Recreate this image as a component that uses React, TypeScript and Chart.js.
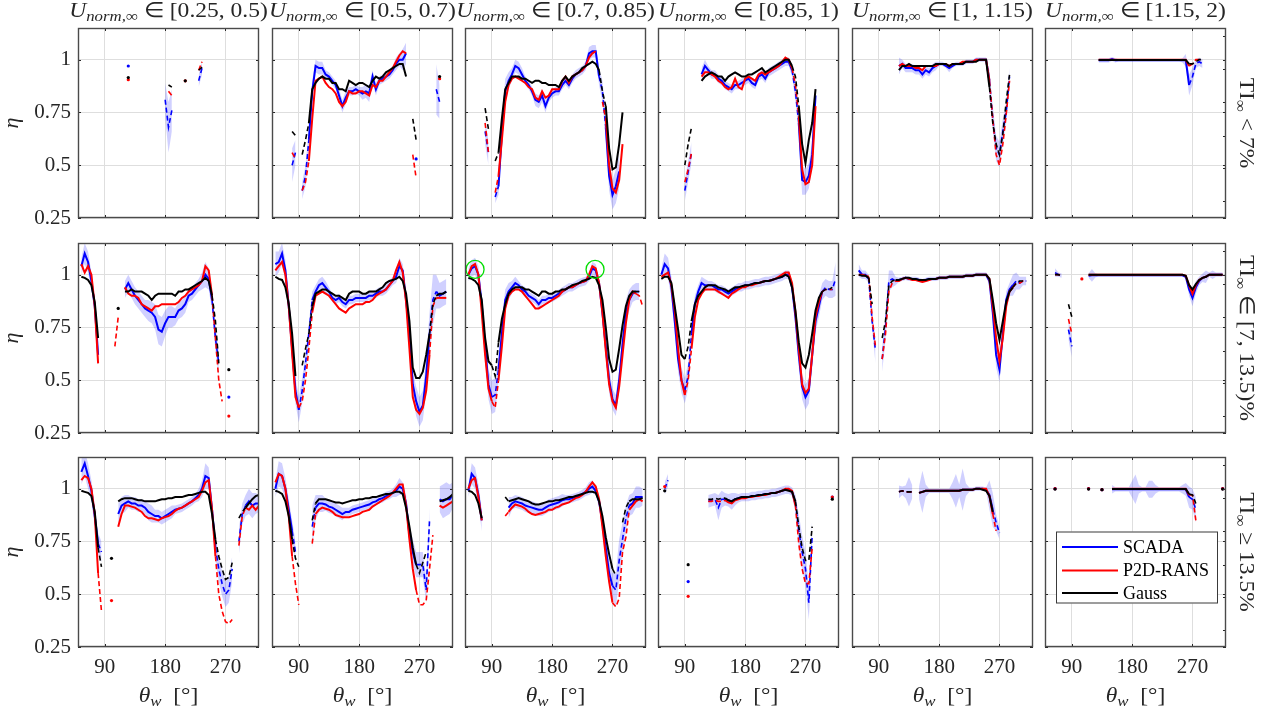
import React, { useEffect, useRef } from "react";
import { Chart, registerables } from "chart.js";

Chart.register(...registerables);

const _ = null;

// wind direction bins (deg)
const THETA = [50,55,60,65,70,75,80,85,90,95,100,105,110,115,120,125,130,135,140,145,150,155,160,165,170,175,180,185,190,195,200,205,210,215,220,225,230,235,240,245,250,255,260,265,270,275,280,285,290,295,300,305,310,315,320];
const X_TICKS = [90, 180, 270];
const Y_TICKS = [0.25, 0.5, 0.75, 1];
const SERIES = ["SCADA", "P2D-RANS", "Gauss"];
const COL_RANGES = ["[0.25, 0.5)", "[0.5, 0.7)", "[0.7, 0.85)", "[0.85, 1)", "[1, 1.15)", "[1.15, 2)"];
const ROW_RANGES = ["< 7%", "∈ [7, 13.5)%", "≥ 13.5%"];

// ---------- Row 1: TI < 7% ----------
const S00 = [_,_,_,_,_,_,_,_,_,_, _,_,_,_,_,.97,_,_,_,_, _,_,_,_,_,_,.81,.68,.76,_, _,_,_,_,_,_,.90,.96,_,_, _,_,_,_,_,_,_,_,_,_, _,_,_,_,_];
const R00 = [_,_,_,_,_,_,_,_,_,_, _,_,_,_,_,.905,_,_,_,_, _,_,_,_,_,_,_,.85,.83,_, _,_,.90,_,_,_,.95,.99,_,_, _,_,_,_,_,_,_,_,_,_, _,_,_,_,_];
const G00 = [_,_,_,_,_,_,_,_,_,_, _,_,_,_,_,.915,_,_,_,_, _,_,_,_,_,_,_,.88,.87,_, _,_,.90,_,_,_,.95,.965,_,_, _,_,_,_,_,_,_,_,_,_, _,_,_,_,_];
const W00 = [_,_,_,_,_,_,_,_,_,_, _,_,_,_,_,.09,_,_,_,_, _,_,_,_,_,_,.08,.12,.10,_, _,_,_,_,_,_,.03,.03,_,_, _,_,_,_,_,_,_,_,_,_, _,_,_,_,_];

const S01 = [_,_,_,_,_,_,.50,.56,_,.38, .45,.62,.85,.97,.96,.96,.93,.92,.90,.88, .83,.78,.82,.85,.85,.86,.85,.84,.85,.84, .92,.86,.90,.91,.92,.93,.95,.98,1.0,1.0, 1.03,_,_,.53,_,_,_,_,_,.86, .80,_,_,_,_];
const R01 = [_,_,_,_,_,_,.56,.53,_,.38, .42,.52,.72,.90,.91,.92,.89,.87,.86,.84, .80,.78,.80,.85,.84,.84,.85,.85,.84,.83, .88,.87,.90,.90,.92,.94,.96,.99,1.02,1.04, 1.03,_,.55,.44,_,_,_,_,_,_, .91,_,_,_,_];
const G01 = [_,_,_,_,_,_,.66,.64,_,.55, .62,.70,.86,.89,.91,.92,.91,.91,.89,.89, .86,.86,.85,.90,.89,.88,.89,.89,.88,.87, .90,.92,.91,.92,.94,.95,.96,.97,.98,.98, .92,_,.72,.62,_,_,_,_,_,_, .92,_,_,_,_];
const W01 = [_,_,_,_,_,_,.08,.06,_,.04, .05,.05,.05,.03,.03,.03,.02,.02,.02,.02, .03,.03,.03,.02,.02,.02,.02,.03,.03,.04, .03,.03,.02,.02,.02,.02,.02,.03,.03,.05, .05,_,_,.08,_,_,_,_,_,.12, .08,_,_,_,_];

const S02 = [_,_,_,_,_,_,.66,.56,_,.35, .40,.65,.85,.90,.93,.97,.96,.93,.90,.88, .85,.81,.80,.83,.78,.82,.84,.85,.85,.88, .90,.88,.91,.93,.94,.95,.97,1.03,1.04,1.04, .92,.85,.68,.45,.36,.40,.47,_,_,_, _,_,_,_,_];
const R02 = [_,_,_,_,_,_,.70,.56,_,.37, .45,.62,.80,.88,.91,.92,.91,.90,.89,.87, .86,.82,.81,.85,.82,.83,.86,.86,.86,.90, .92,.89,.92,.93,.94,.95,.97,1.01,1.03,1.04, _,.80,.72,.50,.39,.37,.43,.60,_,_, _,_,_,_,_];
const G02 = [_,_,_,_,_,_,.77,.67,_,.52, .56,.72,.86,.89,.92,.92,.92,.91,.91,.90, .89,.90,.90,.89,.89,.88,.88,.88,.87,.90, .92,.90,.92,.93,.94,.96,.97,.98,.99,.98, .95,.85,.78,.58,.48,.49,.60,.75,_,_, _,_,_,_,_];
const W02 = [_,_,_,_,_,_,.06,.06,_,.03, .04,.06,.06,.04,.03,.03,.03,.03,.02,.02, .02,.03,.03,.03,.03,.02,.02,.02,.02,.02, .02,.02,.02,.02,.02,.02,.02,.03,.03,.03, .04,.05,.06,.07,.07,.08,.08,_,_,_, _,_,_,_,_];

const S03 = [_,_,_,_,_,_,_,_,.38,.47, .56,_,_,.93,.97,.95,.93,.93,.91,.90, .88,.87,.86,.88,.88,.89,.90,.91,.89,.88, .92,.93,.91,.94,.95,.96,.97,.98,.99,.99, .95,.85,.70,.43,.42,.45,.55,.83,_,_, _,_,_,_,_];
const R03 = [_,_,_,_,_,_,_,_,.42,.48, .56,_,_,.92,.94,.94,.93,.92,.90,.89, .87,.86,.87,.91,.87,.86,.91,.92,.91,.90, .93,.94,.93,.94,.95,.96,.97,.99,1.01,1.0, .96,.88,.73,.48,.41,.42,.50,.78,_,_, _,_,_,_,_];
const G03 = [_,_,_,_,_,_,_,_,.50,.60, .68,_,_,.90,.92,.93,.94,.93,.92,.92, .90,.92,.93,.94,.93,.92,.92,.93,.93,.94, .95,.96,.94,.95,.96,.97,.98,.99,1.0,1.0, .97,.92,.78,.60,.51,.62,.70,.86,_,_, _,_,_,_,_];
const W03 = [_,_,_,_,_,_,_,_,.05,.05, .05,_,_,.03,.03,.02,.02,.02,.02,.02, .02,.02,.02,.02,.02,.02,.02,.02,.02,.02, .02,.02,.02,.02,.02,.02,.02,.02,.02,.02, .03,.05,.06,.07,.06,.06,.06,.06,_,_, _,_,_,_,_];

const S04 = [_,_,_,_,_,_,_,_,_,_, _,_,_,_,.97,.98,.96,.96,.96,.95, .95,.93,.95,.94,.96,.97,.98,.98,.97,.96, .97,.98,.98,.98,.99,.99,.99,1.0,1.0,1.0, 1.0,.90,.72,.58,.55,.66,.75,.92,_,_, _,_,_,_,_];
const R04 = [_,_,_,_,_,_,_,_,_,_, _,_,_,_,.97,.98,.97,.97,.97,.96, .96,.95,.97,.97,.97,.97,.98,.98,.98,.97, .98,.98,.98,.99,.99,.99,.99,1.0,1.0,1.0, 1.0,.90,.72,.55,.50,.60,.74,.90,_,_, _,_,_,_,_];
const G04 = [_,_,_,_,_,_,_,_,_,_, _,_,_,_,.95,.97,.97,.98,.97,.97, .97,.97,.97,.97,.97,.98,.98,.98,.98,.97, .98,.98,.98,.98,.99,.99,.99,.99,1.0,1.0, 1.0,.87,.70,.60,.55,.65,.80,.93,_,_, _,_,_,_,_];
const W04 = [_,_,_,_,_,_,_,_,_,_, _,_,_,_,.04,.02,.02,.02,.02,.02, .02,.02,.02,.02,.02,.02,.01,.01,.01,.02, .01,.01,.01,.01,.01,.01,.01,.01,.01,.01, .01,.05,.06,.06,.06,.06,.05,.04,_,_, _,_,_,_,_];

const S05 = [_,_,_,_,_,_,_,_,_,_, _,_,_,_,_,_,.997,.997,.997,.997, 1.003,.997,.997,.997,.997,.997,.997,.997,.997,.997, .997,.997,.997,.997,.997,.997,.997,.997,.997,.997, .997,.997,.997,.88,.92,.98,.99,.98,_,_, _,_,_,_,_];
const R05 = [_,_,_,_,_,_,_,_,_,_, _,_,_,_,_,_,1,1,1,1, 1,1,1,1,1,1,1,1,1,1, 1,1,1,1,1,1,1,1,1,1, 1,1,1,.97,.98,1,1,1,_,_, _,_,_,_,_];
const G05 = [_,_,_,_,_,_,_,_,_,_, _,_,_,_,_,_,.998,.998,.998,.998, .998,.998,.998,.998,.998,.998,.998,.998,.998,.998, .998,.998,.998,.998,.998,.998,.998,.998,.998,.998, .998,.998,.998,.98,.98,.99,1,1,_,_, _,_,_,_,_];
const W05 = [_,_,_,_,_,_,_,_,_,_, _,_,_,_,_,_,.01,.01,.01,.01, .01,.01,.005,.005,.005,.005,.005,.005,.005,.005, .005,.005,.005,.005,.005,.005,.005,.005,.005,.005, .005,.01,.03,.05,.04,.02,.02,.02,_,_, _,_,_,_,_];

// ---------- Row 2: TI in [7, 13.5)% ----------
const S10 = [_,1.04,1.10,1.06,.97,.85,.62,_,_,_, _,_,_,_,.93,.96,.93,.90,.88,.86, .84,.83,.82,.80,.74,.73,.77,.80,.80,.80, .83,.84,.86,.90,.91,.93,.95,.97,1.0,.98, .88,.70,.58,_,_,.42,_,_,_,_, _,_,_,_,_];
const R10 = [_,1.05,1.01,1.04,1.0,.85,.58,_,_,_, _,.66,.80,_,.94,.91,.90,.90,.89,.86, .85,.84,.83,.85,.85,.86,.86,.86,.86,.86, .87,.89,.90,.92,.93,.94,.95,.97,1.04,1.02, .90,.70,.50,.40,_,.33,_,_,_,_, _,_,_,_,_];
const G10 = [_,.99,.985,.975,.95,.87,.70,_,_,_, _,_,.84,_,.92,.92,.93,.92,.92,.92, .91,.90,.88,.90,.91,.91,.91,.91,.91,.90, .92,.92,.93,.93,.94,.95,.96,.97,.985,.97, .90,.78,.58,_,_,.55,_,_,_,_, _,_,_,_,_];
const W10 = [_,.04,.05,.05,.04,.04,.06,_,_,_, _,_,_,_,.04,.04,.04,.04,.04,.04, .04,.05,.05,.06,.07,.07,.06,.05,.05,.04, .04,.04,.04,.03,.03,.03,.03,.04,.06,.05, .05,.06,.07,_,_,.08,_,_,_,_, _,_,_,_,_];

const S11 = [_,1.05,1.06,1.10,1.02,.85,.65,.45,.36,.45, .58,.72,.88,.92,.95,.96,.94,.92,.89,.88, .89,.87,.86,.88,.88,.89,.89,.89,.89,.90, .90,.91,.92,.92,.93,.95,.97,.99,1.04,1.02, .88,.72,.48,.40,.35,.38,.52,.72,.88,.92, .90,.91,.92,_,_];
const R11 = [_,1.02,1.04,1.06,1.0,.85,.63,.42,.37,.40, .50,.65,.82,.90,.91,.92,.91,.90,.88,.86, .84,.83,.82,.84,.85,.86,.86,.86,.87,.87, .88,.90,.91,.92,.93,.95,.97,1.02,1.06,1.01, .87,.65,.42,.36,.34,.37,.45,.62,.85,.89, .89,.89,.89,_,_];
const G11 = [_,.99,.98,.975,.94,.86,.72,.52,_,.57, .65,.72,.85,.91,.92,.93,.93,.92,.91,.90, .90,.89,.88,.91,.92,.92,.92,.91,.91,.92, .92,.92,.93,.94,.96,.97,.975,.98,.99,.97, .91,.78,.56,.51,.51,.54,.62,.72,.86,.90, .91,.91,.92,_,_];
const W11 = [_,.06,.05,.05,.05,.05,.06,.06,.06,.06, .05,.05,.04,.03,.03,.03,.03,.02,.02,.02, .02,.02,.02,.02,.02,.02,.02,.02,.02,.02, .02,.02,.02,.02,.02,.02,.02,.03,.04,.03, .04,.05,.06,.07,.07,.07,.08,.10,.12,.08, .06,.06,.06,_,_];

const S12 = [_,1.0,1.03,1.04,1.0,.86,.66,.48,.42,.43, .55,.72,.88,.92,.94,.96,.95,.93,.92,.90, .89,.88,.86,.88,.88,.89,.89,.90,.91,.92, .93,.94,.94,.95,.96,.965,.97,.99,1.03,1.02, .96,.82,.66,.50,.41,.38,.50,.67,.82,.88, .91,.92,.92,_,_];
const R12 = [_,1.0,1.04,1.05,1.0,.82,.62,.46,.40,.37, .50,.66,.84,.90,.92,.93,.93,.92,.90,.88, .86,.84,.84,.85,.86,.87,.88,.89,.90,.92, .93,.94,.94,.95,.96,.965,.97,1.0,1.04,1.03, .96,.82,.64,.48,.40,.37,.47,.62,.77,.88, .92,.91,.90,.85,_];
const G12 = [_,.985,.98,.97,.95,.88,.70,.59,.57,.52, .68,.79,.86,.91,.93,.94,.94,.94,.93,.93, .92,.91,.90,.92,.92,.91,.91,.92,.92,.93, .93,.94,.95,.955,.96,.97,.975,.98,.99,.985, .95,.88,.75,.60,.54,.55,.65,.76,.85,.90, .92,.92,.92,_,_];
const W12 = [_,.03,.04,.04,.04,.05,.06,.07,.08,.08, .06,.06,.05,.04,.03,.03,.02,.02,.02,.02, .02,.02,.02,.02,.02,.02,.02,.02,.02,.02, .02,.02,.02,.02,.02,.02,.02,.02,.03,.03, .02,.04,.06,.06,.05,.05,.05,.06,.06,.05, .04,.04,.04,_,_];

const S13 = [_,1.0,1.05,1.03,.94,.78,.60,.50,.45,.52, .72,.86,.92,.96,.95,.95,.95,.94,.93,.93, .92,.91,.92,.93,.94,.94,.95,.95,.955,.96, .96,.965,.97,.97,.975,.98,.985,.99,1.0,1.0, .94,.80,.62,.47,.42,.45,.62,.78,.85,.92, .94,.93,.93,.98,_];
const R13 = [_,.99,1.0,1.01,.95,.83,.65,.50,.43,.50, .65,.80,.88,.91,.93,.93,.93,.93,.92,.91, .90,.89,.91,.92,.93,.94,.94,.95,.95,.955, .96,.965,.97,.97,.975,.98,.99,1.0,1.01,1.01, .96,.82,.65,.48,.44,.46,.62,.80,.87,.92, .93,.93,.93,_,_];
const G13 = [_,.98,.99,.99,.96,.85,.74,.62,.60,.66, .78,.86,.90,.92,.94,.95,.95,.95,.94,.935, .93,.92,.93,.94,.94,.945,.95,.95,.955,.96, .96,.965,.97,.97,.975,.98,.985,.99,1.0,.99, .94,.83,.68,.58,.56,.62,.72,.83,.89,.92, .93,.93,.94,_,_];
const W13 = [_,.03,.05,.05,.05,.06,.06,.06,.06,.06, .05,.04,.03,.03,.03,.02,.02,.02,.02,.02, .02,.02,.02,.02,.02,.02,.02,.02,.02,.02, .02,.02,.02,.02,.02,.02,.02,.02,.02,.02, .03,.05,.06,.06,.06,.06,.06,.05,.05,.04, .04,.04,.04,.08,_];

const S14 = [_,_,1.02,1.0,1.0,.98,.78,.64,_,.60, .75,.97,.98,.97,.975,.98,.985,.98,.98,.98, .975,.97,.975,.98,.98,.98,.985,.985,.985,.99, .99,.99,.99,.99,.995,.995,.995,1.0,1.0,1.0, 1.0,.97,.82,.62,.55,.72,.88,.93,.95,.97, .96,.97,.97,_,_];
const R14 = [_,_,1.0,1.0,.995,.99,.80,.66,_,.60, .72,.92,.96,.97,.97,.98,.985,.98,.975,.975, .97,.965,.97,.975,.98,.98,.985,.985,.985,.99, .99,.99,.99,.99,.995,.995,.995,1.0,1.0,1.0, 1.0,.98,.85,.70,.59,.70,.85,.92,.94,.96, .96,.97,.97,_,_];
const G14 = [_,_,1.0,.995,.995,.985,.86,_,_,.70, .78,.95,.97,.975,.975,.98,.985,.985,.98,.98, .975,.975,.975,.98,.98,.98,.985,.985,.985,.99, .99,.99,.99,.99,.995,.995,.995,1.0,1.0,1.0, 1.0,.98,.88,.77,.69,.78,.87,.92,.94,.96, .97,.97,.97,_,_];
const W14 = [_,_,.03,.02,.02,.02,.04,.06,_,.06, .06,.05,.04,.02,.01,.01,.01,.01,.01,.01, .01,.01,.01,.01,.01,.01,.01,.01,.01,.01, .01,.01,.01,.01,.01,.01,.01,.01,.01,.01, .01,.02,.04,.06,.06,.05,.04,.03,.05,.04, .03,.02,.02,_,_];

const S15 = [_,_,_,1.01,1.0,.995,_,.74,.66,_, _,_,_,.995,.997,.997,.997,.997,.997,.997, .997,.997,.997,.997,.997,.997,.997,.997,.997,.997, .997,.997,.997,.997,.997,.997,.997,.997,.997,.997, .997,.997,.99,.93,.89,.94,.97,.985,.99,1.0, 1.0,1.0,1.0,1.0,_];
const R15 = [_,_,_,1.0,1.0,1.0,_,.79,.72,_, _,.98,_,1,1,1,1,1,1,1, 1,1,1,1,1,1,1,1,1,1, 1,1,1,1,1,1,1,1,1,1, 1,1,.995,.95,.91,.95,.975,.985,.99,1, 1,1,1,1,_];
const G15 = [_,_,_,1.0,1.0,.995,_,.86,.80,_, _,_,_,1,1,1,1,1,1,1, 1,1,1,1,1,1,1,1,1,1, 1,1,1,1,1,1,1,1,1,1, 1,1,.995,.95,.93,.955,.975,.985,.99,1, 1,1,1,1,_];
const W15 = [_,_,_,.02,.01,.01,_,.05,.05,_, _,_,_,.01,.03,.01,.005,.005,.005,.005, .005,.005,.005,.005,.005,.005,.005,.005,.005,.005, .005,.005,.005,.005,.005,.005,.005,.005,.005,.005, .005,.005,.01,.03,.04,.03,.02,.02,.03,.01, .02,.01,.01,.01,_];

// ---------- Row 3: TI >= 13.5% ----------
const S20 = [_,1.08,1.12,1.06,.99,.87,.74,.70,_,_, _,_,.88,.92,.93,.94,.93,.93,.92,.92, .91,.89,.88,.87,.87,.86,.87,.88,.89,.90, .905,.91,.92,.93,.94,.955,.97,1.0,1.06,1.05, .90,.72,.62,.55,.50,.52,.62,_,.75,.88, .92,.94,.92,.93,.93];
const R20 = [_,1.04,1.06,1.05,1.0,.88,.60,.42,_,_, .47,_,.82,.88,.92,.92,.915,.91,.90,.89, .87,.86,.86,.855,.85,.86,.865,.87,.88,.895, .905,.91,.92,.93,.94,.95,.96,.99,1.03,1.04, .90,.68,.50,.42,.37,.36,.38,_,.73,.87, .91,.90,.92,.90,.92];
const G20 = [_,.99,.985,.98,.965,.89,.72,.63,_,_, .67,_,.94,.95,.955,.955,.955,.95,.945,.945, .94,.94,.94,.94,.945,.95,.95,.955,.955,.96, .96,.96,.965,.97,.97,.975,.98,.985,.985,.97, .88,.76,.68,.62,.57,.58,.65,_,.86,.89, .91,.93,.95,.965,.97];
const W20 = [_,.06,.06,.06,.05,.05,.05,.05,_,_, _,_,.05,.04,.04,.03,.03,.03,.03,.03, .03,.04,.04,.03,.03,.03,.03,.03,.03,.02, .02,.02,.02,.02,.02,.02,.03,.04,.06,.05, .05,.06,.06,.06,.06,.06,.06,_,.06,.05, .05,.06,.06,.05,.04];

const S21 = [_,1.0,1.07,1.06,1.0,.90,.80,.70,_,_, _,_,.82,.91,.93,.93,.925,.915,.91,.90, .89,.88,.89,.89,.90,.905,.91,.915,.92,.925, .935,.94,.95,.955,.965,.97,.98,.99,1.01,1.0, .93,.78,.70,.64,.64,.64,.52,.85,_,_, .95,.94,.95,.95,.97];
const R21 = [_,1.03,1.07,1.06,1.0,.87,.68,.55,.45,_, _,_,.74,.88,.90,.91,.905,.90,.89,.875, .87,.865,.865,.865,.87,.875,.88,.89,.895,.90, .915,.925,.935,.945,.955,.965,.98,1.0,1.02,1.02, .92,.76,.62,.52,.45,.45,.47,.62,.78,_, .92,.91,.92,.93,.94];
const G21 = [_,.99,.985,.975,.94,.87,.76,.67,.63,_, _,_,.85,.93,.95,.95,.95,.945,.94,.935, .935,.93,.935,.94,.945,.945,.95,.95,.955,.955, .96,.96,.965,.97,.975,.975,.98,.985,.985,.975, .91,.82,.72,.64,.60,.65,.70,_,_,_, .94,.945,.95,.96,.975];
const W21 = [_,.04,.06,.06,.05,.05,.05,.05,_,_, _,_,.10,.06,.04,.04,.03,.03,.03,.03, .03,.03,.02,.02,.02,.02,.02,.02,.02,.02, .02,.02,.02,.02,.02,.02,.02,.03,.04,.03, .04,.05,.06,.06,.06,.06,.06,.06,_,_, .06,.08,.08,.07,.06];

const S22 = [_,.99,1.07,1.05,.97,.85,_,_,_,_, _,_,_,.91,.93,.94,.935,.93,.92,.915, .91,.905,.90,.90,.91,.92,.925,.93,.935,.945, .95,.95,.955,.96,.965,.975,.985,1.0,1.01,.99, .94,.84,.72,.60,.54,.52,.66,.76,.86,.92, .93,.96,.96,.96,_];
const R22 = [_,1.0,1.04,1.05,.96,.85,_,_,_,_, _,_,.87,.89,.91,.925,.92,.915,.905,.89, .88,.875,.88,.885,.89,.90,.90,.91,.915,.925, .93,.935,.945,.955,.96,.97,.985,1.01,1.03,1.01, .95,.82,.68,.56,.46,.44,.48,.70,.77,.90, .92,.94,.95,.94,_];
const G22 = [_,.99,.985,.97,.93,.86,_,_,_,_, _,_,.96,.94,.945,.95,.955,.95,.945,.94, .93,.925,.925,.93,.935,.94,.94,.945,.945,.95, .955,.96,.96,.965,.97,.975,.98,.985,.985,.98, .94,.87,.77,.69,.62,.59,_,.84,.91,.94, .95,.95,.95,.955,_];
const W22 = [_,.03,.05,.05,.05,.05,_,_,_,_, _,_,_,.05,.03,.03,.03,.03,.03,.03, .03,.03,.03,.03,.03,.03,.03,.03,.03,.03, .02,.02,.02,.02,.02,.02,.02,.03,.03,.02, .03,.05,.06,.06,.06,.08,.10,.08,.06,.05, .05,.05,.05,.04,_];

const S23 = [_,_,1.0,1.04,_,_,_,_,_,.56, _,_,_,_,_,.94,.945,.95,.91,.95, .95,.945,.94,.95,.955,.96,.96,.96,.965,.965, .97,.97,.975,.975,.98,.98,.985,.99,.995,.995, .985,.93,.80,.70,.62,.46,.78,_,_,_, _,_,.96,_,_];
const R23 = [_,_,1.01,_,_,_,_,_,_,.49, _,_,_,_,_,.94,.94,.945,.94,.94, .945,.935,.93,.945,.95,.955,.955,.96,.96,.965, .965,.97,.97,.975,.98,.98,.985,.99,1.0,1.0, .99,.92,.74,.62,.55,.55,.72,_,_,_, _,_,.96,_,_];
const G23 = [_,_,.99,_,_,_,_,_,_,.64, _,_,_,_,_,.95,.95,.955,.95,.955, .955,.945,.94,.95,.955,.96,.96,.96,.965,.965, .97,.97,.975,.975,.98,.98,.985,.99,.995,.99, .985,.94,.82,.72,.66,.66,.82,_,_,_, _,_,.95,_,_];
const W23 = [_,_,.03,.03,_,_,_,_,_,.05, _,_,_,_,_,.03,.03,.03,.06,.04, .03,.03,.04,.03,.02,.02,.02,.02,.02,.02, .02,.02,.02,.02,.02,.02,.02,.02,.02,.02, .02,.04,.08,.08,.08,.08,.08,_,_,_, _,_,.10,_,_];

const S24 = [_,_,_,_,_,_,_,_,_,_, _,_,_,_,.985,.99,.985,.985,.985,_, .98,.985,.99,.99,.99,.99,.99,.99,.99,.99, .99,.99,.99,.995,.995,.995,.995,1.0,1.0,1.0, .995,.97,.90,.84,.79,_,_,_,_,_, _,_,_,_,_];
const R24 = [_,_,_,_,_,_,_,_,_,_, _,_,_,_,.985,.99,.985,.985,.985,_, .98,.985,.99,.99,.99,.99,.99,.99,.99,.99, .99,.99,.99,.995,.995,.995,.995,1.0,1.0,1.0, 1.0,.965,.88,.80,_,_,_,_,_,_, _,_,_,_,_];
const G24 = [_,_,_,_,_,_,_,_,_,_, _,_,_,_,.985,.99,.985,.985,.985,_, .98,.985,.99,.99,.99,.99,.99,.99,.99,.99, .99,.99,.99,.995,.995,.995,.995,1.0,1.0,.995, .99,.965,.89,_,_,_,_,_,_,_, _,_,_,_,_];
const W24 = [_,_,_,_,_,_,_,_,_,_, _,_,_,_,.03,.02,.03,.07,.03,_, .03,.10,.03,.01,.01,.01,.01,.01,.01,.01, .04,.08,.03,.10,.03,.01,.01,.01,.01,.01, .01,.07,.08,.04,.03,_,_,_,_,_, _,_,_,_,_];

const S25 = [_,_,_,1.0,_,_,_,_,_,_, _,_,_,1.0,_,_,_,.995,_,_, .997,.997,.997,.997,.997,.997,.997,.997,.997,.997, .997,.997,.997,.997,.997,.997,.997,.997,.997,.997, .997,.997,.997,.96,.95,.90,_,_,_,_, _,_,_,1.0,_];
const R25 = [_,_,_,1.0,_,_,_,_,_,_, _,_,_,1.0,_,_,_,.995,_,_, 1,1,1,1,1,1,1,1,1,1, 1,1,1,1,1,1,1,1,1,1, 1,1,1,.97,.97,.85,_,_,_,_, _,_,_,1.0,_];
const G25 = [_,_,_,.998,_,_,_,_,_,_, _,_,_,.998,_,_,_,.995,_,_, .998,.998,.998,.998,.998,.998,.998,.998,.998,.998, .998,.998,.998,.998,.998,.998,.998,.998,.998,.998, .998,.998,.998,.975,.97,.93,_,_,_,_, _,_,_,.998,_];
const W25 = [_,_,_,.04,_,_,_,_,_,_, _,_,_,.03,_,_,_,.02,_,_, .02,.01,.01,.01,.01,.01,.04,.07,.02,.01, .01,.04,.04,.02,.01,.01,.01,.01,.01,.01, .01,.02,.03,.05,.05,.06,_,_,_,_, _,_,_,.02,_];

// highlighted peaks (green circles) in panel row 2 / col 3
const MARK_THETA = [65, 244];
const MARK_ETA = [1.025, 1.025];

const PANELS = [
  [
    { S: S00, R: R00, G: G00, W: W00 }, { S: S01, R: R01, G: G01, W: W01 }, { S: S02, R: R02, G: G02, W: W02 },
    { S: S03, R: R03, G: G03, W: W03 }, { S: S04, R: R04, G: G04, W: W04 }, { S: S05, R: R05, G: G05, W: W05 },
  ],
  [
    { S: S10, R: R10, G: G10, W: W10 }, { S: S11, R: R11, G: G11, W: W11 }, { S: S12, R: R12, G: G12, W: W12 },
    { S: S13, R: R13, G: G13, W: W13 }, { S: S14, R: R14, G: G14, W: W14 }, { S: S15, R: R15, G: G15, W: W15 },
  ],
  [
    { S: S20, R: R20, G: G20, W: W20 }, { S: S21, R: R21, G: G21, W: W21 }, { S: S22, R: R22, G: G22, W: W22 },
    { S: S23, R: R23, G: G23, W: W23 }, { S: S24, R: R24, G: G24, W: W24 }, { S: S25, R: R25, G: G25, W: W25 },
  ],
];

// theta ranges drawn with dashed lines (sparse bins)
const DASH = [
  [[[50, 320]], [[50, 108], [248, 320]], [[50, 103], [248, 262], [282, 320]], [[50, 112], [250, 263], [282, 320]], [[50, 118], [252, 320]], [[50, 128], [262, 320]]],
  [[[50, 52], [78, 118], [248, 320]], [[50, 57], [86, 112], [282, 298]], [[88, 100], [302, 320]], [[86, 100], [292, 320]], [[50, 58], [74, 118], [286, 320]], [[50, 115]]],
  [[[78, 112], [252, 300]], [[78, 115], [262, 300]], [[108, 118], [268, 295]], [[50, 150], [255, 320]], [[50, 150], [256, 320]], [[50, 150], [262, 320]]],
];

// ---------- layout / style ----------
const FONT = "'Liberation Serif', 'Times New Roman', serif";
const INK = "#262626";
const FRAME = "#4a4a4a";
const GRID = "#dedede";
const COL_X = [78, 272, 465, 658, 852, 1045];
const ROW_Y = [28, 243, 457];
const PW = 181;
const PH = 190;
const PAD_L = 75;
const PAD_T = 30;
const PAD_R = 65;
const PAD_B = 70;
const CW = PAD_L + PW + PAD_R;
const CH = PAD_T + PH + PAD_B;
const RIGHT_MINOR = [0.042, 0.215, 0.39, 0.566, 0.739, 0.913];
const STRETCH = 1.12;

Chart.defaults.font.family = FONT;

type Part = { t: string; size: number; italic?: boolean; dy?: number };

function drawParts(ctx: CanvasRenderingContext2D, parts: Part[], cx: number, cy: number, rot: number, base: number, stretch: number) {
  ctx.save();
  ctx.translate(cx, cy);
  ctx.rotate(rot);
  ctx.scale(stretch, 1);
  ctx.textBaseline = "alphabetic";
  ctx.textAlign = "left";
  ctx.fillStyle = INK;
  const f = (p: Part) => `${p.italic ? "italic " : ""}${p.size}px ${FONT}`;
  let total = 0;
  const widths = parts.map((p) => {
    ctx.font = f(p);
    const w = ctx.measureText(p.t).width;
    total += w;
    return w;
  });
  let x = -total / 2;
  parts.forEach((p, i) => {
    ctx.font = f(p);
    ctx.fillText(p.t, x, base + (p.dy || 0));
    x += widths[i];
  });
  ctx.restore();
}

const isGap = (v: any) => v === null || v === undefined;

function Panel({ r, c }: { r: number; c: number }) {
  const ref = useRef<HTMLCanvasElement | null>(null);

  useEffect(() => {
    const canvas = ref.current;
    if (!canvas) return;
    const P = PANELS[r][c];
    const dash = DASH[r][c];
    const inDash = (a: number, b: number) => dash.some(([lo, hi]) => a >= lo && b <= hi);
    const pts = (arr: (number | null)[]) => THETA.map((x, i) => ({ x, y: arr[i] }));

    const lineSet = (label: string, arr: (number | null)[], color: string, order: number) => ({
      label,
      data: pts(arr),
      borderColor: color,
      backgroundColor: color,
      borderWidth: 2,
      tension: 0,
      fill: false,
      order,
      spanGaps: false,
      pointRadius: (ctx: any) => {
        const i = ctx.dataIndex;
        return !isGap(arr[i]) && isGap(arr[i - 1]) && isGap(arr[i + 1]) ? 1.6 : 0;
      },
      pointHoverRadius: 0,
      pointBorderWidth: 0,
      segment: {
        borderDash: (ctx: any) => (inDash(ctx.p0.parsed.x, ctx.p1.parsed.x) ? [5, 3] : undefined),
        borderWidth: (ctx: any) => (inDash(ctx.p0.parsed.x, ctx.p1.parsed.x) ? 1.6 : undefined),
      },
    });

    const bandPts = (sign: number) =>
      THETA.map((x, i) => ({
        x,
        y: isGap(P.S[i]) || isGap(P.W[i]) ? null : (P.S[i] as number) + sign * (P.W[i] as number),
      }));

    const datasets: any[] = [
      lineSet(SERIES[2], P.G, "#000000", 1),
      lineSet(SERIES[1], P.R, "#ff0000", 2),
      lineSet(SERIES[0], P.S, "#0000ff", 3),
      { label: "band-lo", data: bandPts(-1), borderColor: "rgba(0,0,0,0)", borderWidth: 1, pointRadius: 0, fill: false, order: 6, tension: 0 },
      { label: "band-hi", data: bandPts(1), borderColor: "rgba(0,0,0,0)", borderWidth: 1, pointRadius: 0, fill: "-1", backgroundColor: "rgba(40,40,255,0.22)", order: 5, tension: 0 },
    ];
    if (r === 1 && c === 2) {
      datasets.push({
        label: "mark",
        data: MARK_THETA.map((x, i) => ({ x, y: MARK_ETA[i] })),
        showLine: false,
        pointRadius: 9,
        pointBorderColor: "#00dd00",
        pointBackgroundColor: "rgba(0,0,0,0)",
        pointBorderWidth: 1.3,
        borderColor: "rgba(0,0,0,0)",
        order: 0,
      });
    }

    const decor = {
      id: "decor",
      afterDatasetsDraw(chart: any) {
        const { ctx, chartArea: a } = chart;
        const xs = chart.scales.x;
        const ys = chart.scales.y;
        ctx.save();
        ctx.strokeStyle = INK;
        ctx.lineWidth = 1;
        ctx.beginPath();
        X_TICKS.forEach((v) => {
          const px = Math.round(xs.getPixelForValue(v)) + 0.5;
          ctx.moveTo(px, a.bottom);
          ctx.lineTo(px, a.bottom - 3);
          ctx.moveTo(px, a.top);
          ctx.lineTo(px, a.top + 3);
        });
        Y_TICKS.forEach((v) => {
          const py = Math.round(ys.getPixelForValue(v)) + 0.5;
          ctx.moveTo(a.left, py);
          ctx.lineTo(a.left + 3, py);
          ctx.moveTo(a.right, py);
          ctx.lineTo(a.right - 3, py);
        });
        if (c === 5) {
          RIGHT_MINOR.forEach((fr) => {
            const py = Math.round(a.top + fr * (a.bottom - a.top)) + 0.5;
            ctx.moveTo(a.right, py);
            ctx.lineTo(a.right - 3, py);
          });
        }
        ctx.stroke();
        ctx.strokeStyle = FRAME;
        ctx.lineWidth = 1.4;
        ctx.strokeRect(a.left + 0.5, a.top + 0.5, a.right - a.left - 1, a.bottom - a.top - 1);
        ctx.restore();
      },
      afterDraw(chart: any) {
        const { ctx, chartArea: a } = chart;
        const cx = (a.left + a.right) / 2;
        const cy = (a.top + a.bottom) / 2;
        if (r === 0) {
          drawParts(ctx, [
            { t: "U", size: 21, italic: true },
            { t: "norm,∞", size: 15, italic: true, dy: 4 },
            { t: " ∈ ", size: 21 },
            { t: COL_RANGES[c], size: 21 },
          ], cx, a.top - 11, 0, 0, STRETCH);
        }
        if (c === 5) {
          drawParts(ctx, [
            { t: "TI", size: 21 },
            { t: "∞", size: 15, dy: 4 },
            { t: " " + ROW_RANGES[r], size: 21 },
          ], a.right + 21, cy, Math.PI / 2, 7, STRETCH);
        }
        if (c === 0) {
          drawParts(ctx, [{ t: "η", size: 22, italic: true }], a.left - 64, cy, -Math.PI / 2, 4, 1);
        }
        if (r === 2) {
          drawParts(ctx, [
            { t: "θ", size: 21, italic: true },
            { t: "w", size: 15, italic: true, dy: 4 },
            { t: "  [°]", size: 21 },
          ], cx, a.bottom + 55, 0, 0, STRETCH);
        }
        if (r === 2 && c === 5) {
          const bx = a.left + 11;
          const by = a.top + 74.5;
          ctx.save();
          ctx.fillStyle = "#ffffff";
          ctx.fillRect(bx, by, 162, 72);
          ctx.strokeStyle = "#3a3a3a";
          ctx.lineWidth = 1;
          ctx.strokeRect(bx + 0.5, by + 0.5, 161, 71);
          const colors = ["#0000ff", "#ff0000", "#000000"];
          const ys = [a.top + 90, a.top + 113.5, a.top + 136];
          SERIES.forEach((name, i) => {
            ctx.strokeStyle = colors[i];
            ctx.lineWidth = 2;
            ctx.beginPath();
            ctx.moveTo(a.left + 17, ys[i]);
            ctx.lineTo(a.left + 73, ys[i]);
            ctx.stroke();
            ctx.fillStyle = "#000000";
            ctx.font = `18px ${FONT}`;
            ctx.textBaseline = "middle";
            ctx.textAlign = "left";
            ctx.fillText(name, a.left + 78, ys[i] + 1);
          });
          ctx.restore();
        }
      },
    };

    const chart = new Chart(canvas, {
      type: "line",
      data: { datasets },
      options: {
        animation: false,
        responsive: false,
        maintainAspectRatio: false,
        devicePixelRatio: 1,
        events: [],
        layout: { padding: { left: 0, top: PAD_T, right: PAD_R, bottom: 0 } },
        plugins: {
          legend: { display: false },
          tooltip: { enabled: false },
          title: { display: false },
        },
        scales: {
          x: {
            type: "linear",
            min: 50,
            max: 320,
            afterBuildTicks: (ax: any) => {
              ax.ticks = X_TICKS.map((v) => ({ value: v }));
            },
            afterFit: (ax: any) => {
              ax.height = PAD_B;
            },
            grid: { color: GRID, lineWidth: 1, drawTicks: false },
            border: { display: false },
            ticks: {
              display: r === 2,
              padding: 8,
              color: INK,
              font: { family: FONT, size: 21 },
              maxRotation: 0,
              autoSkip: false,
              callback: (v: any) => String(v),
            },
          },
          y: {
            type: "linear",
            min: 0.25,
            max: 1.15,
            afterBuildTicks: (ax: any) => {
              ax.ticks = Y_TICKS.map((v) => ({ value: v }));
            },
            afterFit: (ax: any) => {
              ax.width = PAD_L;
            },
            grid: { color: GRID, lineWidth: 1, drawTicks: false },
            border: { display: false },
            ticks: {
              display: c === 0,
              padding: 7,
              color: INK,
              font: { family: FONT, size: 21 },
              autoSkip: false,
              callback: (v: any) => String(v),
            },
          },
        },
      } as any,
      plugins: [decor],
    });
    return () => chart.destroy();
  }, [r, c]);

  return (
    <canvas
      ref={ref}
      width={CW}
      height={CH}
      style={{ position: "absolute", left: COL_X[c] - PAD_L, top: ROW_Y[r] - PAD_T, width: CW, height: CH }}
    />
  );
}

export default function App() {
  useEffect(() => {
    document.body.style.margin = "0";
  }, []);
  const rows = [0, 1, 2];
  const cols = [0, 1, 2, 3, 4, 5];
  return (
    <div style={{ position: "absolute", left: 0, top: 0, width: 1278, height: 712, background: "#ffffff", overflow: "hidden" }}>
      {rows.map((r) => cols.map((c) => <Panel key={`${r}-${c}`} r={r} c={c} />))}
    </div>
  );
}
